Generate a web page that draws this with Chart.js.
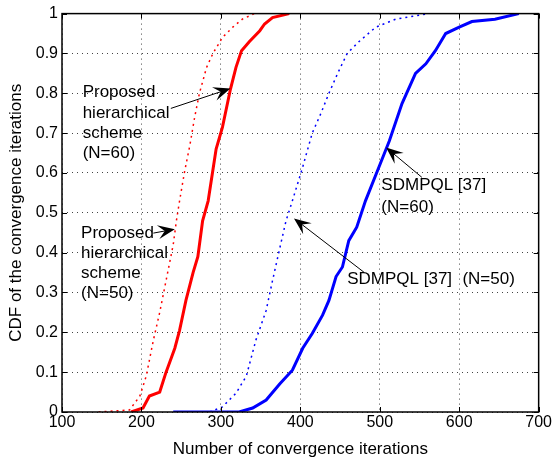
<!DOCTYPE html>
<html>
<head>
<meta charset="utf-8">
<script src="https://cdn.jsdelivr.net/npm/chart.js@4/dist/chart.umd.min.js"></script>
<style>
  html, body { margin: 0; padding: 0; background: #fff; }
  #wrap { width: 553px; height: 460px; }
</style>
</head>
<body>
<div id="wrap"><canvas id="myChart"></canvas></div>
<script>
// Proposed hierarchical scheme, N=60 (red solid)
const redSolidX = [187, 202, 210, 223, 231, 242, 248, 256, 265, 271, 277, 284, 294, 302, 312, 319, 326, 336, 349, 355, 365, 386]
const redSolidY = [0, 0.01, 0.04, 0.05, 0.1, 0.16, 0.205, 0.28, 0.35, 0.39, 0.48, 0.53, 0.66, 0.715, 0.81, 0.865, 0.907, 0.93, 0.957, 0.974, 0.99, 1]

// Proposed hierarchical scheme, N=50 (red dotted)
const redDotX = [146, 185, 198, 206, 215, 223, 231, 240, 244, 248, 254, 261, 267, 273, 282, 290, 302, 315, 327, 342]
const redDotY = [0, 0.005, 0.04, 0.09, 0.18, 0.25, 0.33, 0.42, 0.48, 0.53, 0.6, 0.67, 0.74, 0.8, 0.865, 0.9, 0.94, 0.966, 0.986, 1]

// SDMPQL [37], N=50 (blue dotted)
const blueDotX = [286, 302, 319, 332, 344, 357, 365, 374, 382, 390, 403, 415, 426, 436, 447, 459, 474, 495, 520, 562]
const blueDotY = [0, 0.013, 0.047, 0.09, 0.18, 0.255, 0.33, 0.41, 0.48, 0.53, 0.615, 0.7, 0.75, 0.8, 0.85, 0.9, 0.93, 0.966, 0.986, 1]

// SDMPQL [37], N=60 (blue solid)
const blueSolidX = [240, 323, 340, 357, 374, 390, 403, 415, 428, 436, 445, 453, 461, 471, 482, 499, 512, 528, 545, 558, 570, 583, 600, 616, 645, 675]
const blueSolidY = [0, 0, 0.01, 0.03, 0.07, 0.105, 0.16, 0.197, 0.243, 0.28, 0.34, 0.364, 0.43, 0.464, 0.53, 0.615, 0.68, 0.774, 0.85, 0.874, 0.907, 0.95, 0.966, 0.98, 0.986, 1]

const xTicks = [100, 200, 300, 400, 500, 600, 700]
const yTicks = [0, 0.1, 0.2, 0.3, 0.4, 0.5, 0.6, 0.7, 0.8, 0.9, 1]

const fontFam = '"Liberation Sans", Arial, sans-serif'

const toPoints = (xs, ys) => xs.map((x, i) => ({ x: x, y: ys[i] }))

// text labels and arrows, in data coordinates
const labels = [
    { x: 126, y: 0.802, text: 'Proposed' },
    { x: 126, y: 0.749, text: 'hierarchical' },
    { x: 126, y: 0.699, text: 'scheme' },
    { x: 126, y: 0.649, text: '(N=60)' },
    { x: 124, y: 0.449, text: 'Proposed' },
    { x: 124, y: 0.398, text: 'hierarchical' },
    { x: 124, y: 0.348, text: 'scheme' },
    { x: 124, y: 0.298, text: '(N=50)' },
    { x: 502, y: 0.569, text: 'SDMPQL [37]' },
    { x: 502, y: 0.514, text: '(N=60)' },
    { x: 459, y: 0.333, text: 'SDMPQL [37]' },
    { x: 604, y: 0.333, text: '(N=50)' }
]
const arrows = [
    { x0: 237, y0: 0.762, x1: 312, y1: 0.812 },
    { x0: 215, y0: 0.449, x1: 242, y1: 0.459 },
    { x0: 553, y0: 0.589, x1: 508, y1: 0.664 },
    { x0: 480, y0: 0.351, x1: 392, y1: 0.486 }
]

const annotPlugin = {
    id: 'annot',
    afterDraw(chart) {
        const ctx = chart.ctx
        const xs = chart.scales.x
        const ys = chart.scales.y
        const area = chart.chartArea
        ctx.save()
        // inward tick marks on all four sides
        ctx.strokeStyle = '#000'
        ctx.lineWidth = 1
        ctx.beginPath()
        xTicks.forEach((t) => {
            const px = Math.round(xs.getPixelForValue(t)) + 0.5
            ctx.moveTo(px, area.bottom); ctx.lineTo(px, area.bottom - 5)
            ctx.moveTo(px, area.top); ctx.lineTo(px, area.top + 5)
        })
        yTicks.forEach((t) => {
            const py = Math.round(ys.getPixelForValue(t)) + 0.5
            ctx.moveTo(area.left, py); ctx.lineTo(area.left + 5, py)
            ctx.moveTo(area.right, py); ctx.lineTo(area.right - 5, py)
        })
        ctx.stroke()
        ctx.lineWidth = 1.5
        ctx.strokeRect(area.left, area.top, area.right - area.left, area.bottom - area.top)

        // arrows
        arrows.forEach((a) => {
            const x0 = xs.getPixelForValue(a.x0), y0 = ys.getPixelForValue(a.y0)
            const x1 = xs.getPixelForValue(a.x1), y1 = ys.getPixelForValue(a.y1)
            const ang = Math.atan2(y1 - y0, x1 - x0)
            const len = 17, half = 7
            ctx.lineWidth = 1
            ctx.beginPath()
            ctx.moveTo(x0, y0)
            ctx.lineTo(x1 - Math.cos(ang) * 10, y1 - Math.sin(ang) * 10)
            ctx.stroke()
            const bx = x1 - Math.cos(ang) * len, by = y1 - Math.sin(ang) * len
            const nx = -Math.sin(ang), ny = Math.cos(ang)
            const mx = x1 - Math.cos(ang) * (len * 0.6), my = y1 - Math.sin(ang) * (len * 0.6)
            ctx.fillStyle = '#000'
            ctx.beginPath()
            ctx.moveTo(x1, y1)
            ctx.lineTo(bx + nx * half, by + ny * half)
            ctx.lineTo(mx, my)
            ctx.lineTo(bx - nx * half, by - ny * half)
            ctx.closePath()
            ctx.fill()
        })

        // text labels
        ctx.font = '17px ' + fontFam
        ctx.textAlign = 'left'
        ctx.textBaseline = 'middle'
        ctx.fillStyle = '#000'
        labels.forEach((l) => {
            ctx.fillText(l.text, xs.getPixelForValue(l.x), ys.getPixelForValue(l.y))
        })
        ctx.restore()
    }
}

new Chart(document.getElementById('myChart'), {
    type: 'scatter',
    data: {
        datasets: [
            {
                label: 'Proposed hierarchical scheme (N=50)',
                data: toPoints(redDotX, redDotY),
                showLine: true,
                borderColor: '#ff0000',
                borderWidth: 1.5,
                borderDash: [2, 4],
                pointRadius: 0,
                tension: 0
            },
            {
                label: 'Proposed hierarchical scheme (N=60)',
                data: toPoints(redSolidX, redSolidY),
                showLine: true,
                borderColor: '#ff0000',
                borderWidth: 3,
                pointRadius: 0,
                tension: 0
            },
            {
                label: 'SDMPQL [37] (N=50)',
                data: toPoints(blueDotX, blueDotY),
                showLine: true,
                borderColor: '#0000ff',
                borderWidth: 1.5,
                borderDash: [2, 4],
                pointRadius: 0,
                tension: 0
            },
            {
                label: 'SDMPQL [37] (N=60)',
                data: toPoints(blueSolidX, blueSolidY),
                showLine: true,
                borderColor: '#0000ff',
                borderWidth: 3,
                pointRadius: 0,
                tension: 0
            }
        ]
    },
    options: {
        responsive: true,
        maintainAspectRatio: false,
        animation: false,
        layout: { padding: { top: 13, right: 13, left: 0, bottom: 0 } },
        plugins: {
            legend: { display: false },
            tooltip: { enabled: false }
        },
        scales: {
            x: {
                type: 'linear',
                min: 100,
                max: 700,
                afterBuildTicks: (s) => { s.ticks = xTicks.map((v) => ({ value: v })) },
                afterFit: (s) => { s.height = 48 },
                ticks: {
                    color: '#000',
                    font: { family: fontFam, size: 16 },
                    padding: 1,
                    maxRotation: 0
                },
                grid: {
                    color: '#444',
                    lineWidth: 1,
                    drawTicks: false,
                    tickLength: 0
                },
                border: { display: false, dash: [1, 4] },
                title: {
                    display: true,
                    text: 'Number of convergence iterations',
                    color: '#000',
                    font: { family: fontFam, size: 17 },
                    padding: { top: 0, bottom: 0 }
                }
            },
            y: {
                type: 'linear',
                min: 0,
                max: 1,
                afterBuildTicks: (s) => { s.ticks = yTicks.map((v) => ({ value: v })) },
                afterFit: (s) => { s.width = 62 },
                ticks: {
                    color: '#000',
                    font: { family: fontFam, size: 16 },
                    padding: 4,
                    callback: (v) => String(Math.round(v * 10) / 10)
                },
                grid: {
                    color: '#444',
                    lineWidth: 1,
                    drawTicks: false,
                    tickLength: 0
                },
                border: { display: false, dash: [1, 4] },
                title: {
                    display: true,
                    text: 'CDF of the convergence iterations',
                    color: '#000',
                    font: { family: fontFam, size: 17 },
                    padding: { top: 6, bottom: 0 }
                }
            }
        }
    },
    plugins: [annotPlugin]
})
</script>
</body>
</html>
